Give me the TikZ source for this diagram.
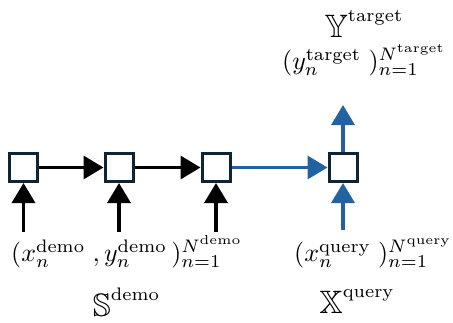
\documentclass[tikz,border=0pt]{standalone}
\usepackage{amsmath,amssymb}
\usepackage{graphicx}
\usetikzlibrary{arrows.meta}
\definecolor{boxline}{HTML}{0E2536}
\definecolor{flowblue}{HTML}{2262A0}
\newcommand{\bigmath}[1]{\scalebox{2.6}{$#1$}}
\newcommand{\setsym}[1]{\scalebox{1.25}{$\mathbb{#1}$}}
\tikzset{
  cell/.style={draw=boxline, line width=3bp, fill=white, minimum size=28bp, inner sep=0pt},
  blk/.style={line width=3.5bp, black, -{Triangle[length=20bp,width=23bp]}},
  blu/.style={line width=3.5bp, flowblue, -{Triangle[length=20bp,width=23bp]}},
  lbl/.style={inner sep=0pt},
}
\begin{document}
\begin{tikzpicture}[x=1bp,y=-1bp]
\useasboundingbox (0,0) rectangle (453,322);
\node[cell] (b1) at (23.5,167.5) {};
\node[cell] (b2) at (119,167.5) {};
\node[cell] (b3) at (216,167.5) {};
\node[cell] (b4) at (343,167.5) {};
\coordinate (t1) at (23.5,232);
\coordinate (t2) at (119,232);
\coordinate (t3) at (216,232);
\coordinate (t4) at (343,230);
\coordinate (up) at (343,105);
\draw[blk] (b1) -- (b2);
\draw[blk] (b2) -- (b3);
\draw[blu] (b3) -- (b4);
\draw[blk] (t1) -- (b1);
\draw[blk] (t2) -- (b2);
\draw[blk] (t3) -- (b3);
\draw[blu] (t4) -- (b4);
\draw[blu] (b4) -- (up);
\node[lbl, anchor=base west] (demo) at (11,261.5) {\bigmath{(x_n^{\text{demo}}\;,y_n^{\text{demo}}\,)_{n=1}^{N^{\text{demo}}}}};
\node[lbl, anchor=base] (S) at (126.5,316) {\bigmath{\setsym{S}^{\text{demo}}}};
\node[lbl, anchor=base west] (query) at (294,261.5) {\bigmath{(x_n^{\text{query}}\;)_{n=1}^{N^{\text{query}}}}};
\node[lbl, anchor=base] (X) at (357,313) {\bigmath{\setsym{X}^{\text{query}}}};
\node[lbl, anchor=base west] (target) at (282,69.5) {\bigmath{(y_n^{\text{target}}\;)_{n=1}^{N^{\text{target}}}}};
\node[lbl, anchor=base] (Y) at (364,37) {\bigmath{\setsym{Y}^{\text{target}}}};
\end{tikzpicture}
\end{document}
